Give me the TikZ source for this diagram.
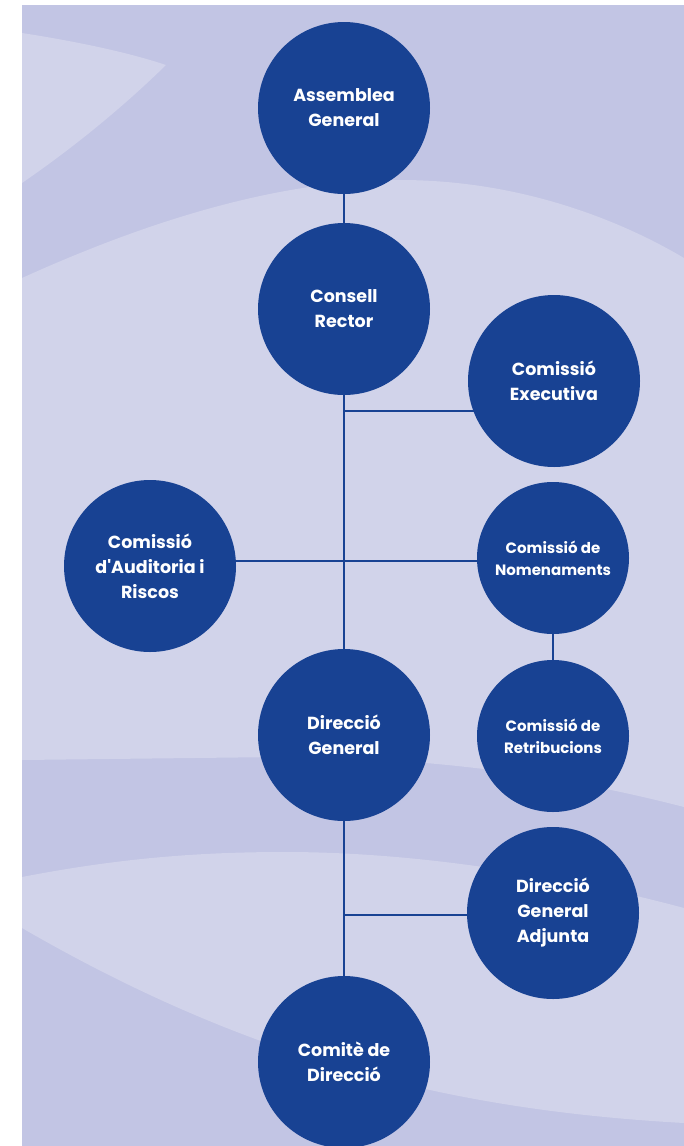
\documentclass[tikz,border=0pt]{standalone}
\usepackage{fontspec}
\setmainfont{Poppins}
\definecolor{bandDark}{HTML}{C2C5E4}
\definecolor{bandLight}{HTML}{D1D3EA}
\definecolor{orgBlue}{HTML}{184293}
\pgfdeclarelayer{back}
\pgfdeclarelayer{links}
\pgfsetlayers{back,links,main}
\tikzset{
  body/.style={circle, fill=orgBlue, minimum size=172pt, inner sep=0pt, text=white,
    align=center, font=\bfseries\fontsize{17.5}{25}\selectfont},
  subbody/.style={body, minimum size=152pt, font=\bfseries\fontsize{15}{22}\selectfont},
  link/.style={draw=orgBlue, line width=2pt}
}
\begin{document}
\begin{tikzpicture}[x=1pt,y=-1pt]
\useasboundingbox (0,0) rectangle (684,1146);

% background panel
\begin{pgfonlayer}{back}
\fill[bandDark] (22,5) rectangle (684,1146);
\fill[bandLight] (22,33) .. controls (80,42) and (130,53) .. (166,65)
   .. controls (120,110) and (70,150) .. (22,183) -- cycle;
\fill[bandLight] (22,278) .. controls (150,220) and (280,180) .. (400,180)
   .. controls (520,180) and (620,220) .. (684,258) -- (684,807)
   .. controls (560,775) and (430,757) .. (280,757) -- (22,760) -- cycle;
\fill[bandLight] (22,877) .. controls (120,858) and (200,852) .. (285,852)
   .. controls (430,852) and (580,880) .. (684,908) -- (684,1123)
   .. controls (450,1110) and (250,1060) .. (22,928) -- cycle;
\end{pgfonlayer}

\node[body] (ag) at (344,108) {Assemblea\\General};
\node[body] (cr) at (344,309) {Consell\\Rector};
\node[body] (ce) at (554,381) {Comissió\\Executiva};
\node[body] (car) at (150,566) {Comissió\\d\textquotesingle Auditoria i\\Riscos};
\node[subbody] (cn) at (553,558) {Comissió de\\Nomenaments};
\node[subbody] (cret) at (553,736) {Comissió de\\Retribucions};
\node[body] (dg) at (344,735) {Direcció\\General};
\node[body] (dga) at (553,913) {Direcció\\General\\Adjunta};
\node[body] (cd) at (344,1062) {Comitè de\\Direcció};

\coordinate (j1) at (344,411);
\coordinate (j2) at (344,561);
\coordinate (j3) at (344,915);

\begin{pgfonlayer}{links}
\draw[link] (ag) -- (cr);
\draw[link] (cr) -- (dg);
\draw[link] (dg) -- (cd);
\draw[link] (j1) -- (j1 -| ce.center);
\draw[link] (j2 -| car.center) -- (j2 -| cn.center);
\draw[link] (cn) -- (cret);
\draw[link] (j3) -- (j3 -| dga.center);
\end{pgfonlayer}
\end{tikzpicture}
\end{document}
